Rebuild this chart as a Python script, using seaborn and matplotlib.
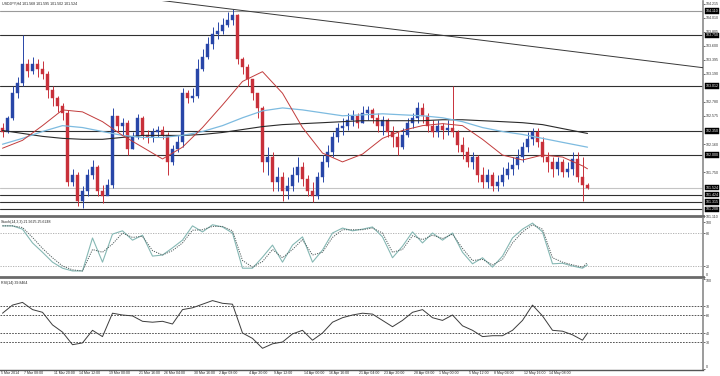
import matplotlib
matplotlib.use("Agg")
import matplotlib.pyplot as plt
import numpy as np
import pandas as pd
import seaborn as sns

# ---------------- data ----------------
header = "USDJPY,H4 101.568 101.595 101.502 101.524"
stoch_label = "Stoch(14,3,3) 21.9625 25.6248"
rsi_label = "RSI(14) 39.8464"

first_open = 102.40
close = [102.331, 102.546, 102.905, 103.048, 103.335, 103.235, 103.335, 103.263, 103.192, 102.948,
         102.833, 102.718, 102.618, 101.614, 101.714, 101.327, 101.470, 101.714, 101.829, 101.470,
         101.398, 101.570, 102.575, 102.431, 102.474, 102.087, 102.259, 102.546, 102.288, 102.259,
         102.331, 102.374, 102.288, 101.901, 102.087, 102.187, 102.905, 102.833, 102.862, 103.263,
         103.436, 103.622, 103.766, 103.809, 103.909, 103.981, 104.053, 103.407, 103.292, 103.120,
         102.905, 102.690, 101.901, 101.972, 101.614, 101.685, 101.470, 101.542, 101.714, 101.829,
         101.657, 101.470, 101.398, 101.685, 101.901, 102.044, 102.259, 102.403, 102.431, 102.517,
         102.575, 102.474, 102.618, 102.661, 102.546, 102.431, 102.517, 102.331, 102.259, 102.116,
         102.288, 102.474, 102.546, 102.690, 102.575, 102.431, 102.331, 102.431, 102.374, 102.403,
         102.331, 102.144, 102.044, 101.901, 101.972, 101.714, 101.614, 101.714, 101.542, 101.614,
         101.714, 101.800, 101.858, 101.972, 102.116, 102.231, 102.331, 102.187, 101.972, 101.901,
         101.800, 101.901, 101.757, 101.800, 101.944, 101.685, 101.570, 101.524]
high = [102.474, 102.575, 103.005, 103.149, 103.751, 103.407, 103.436, 103.407, 103.378, 103.235,
        103.005, 102.862, 102.761, 102.661, 101.800, 101.757, 101.542, 101.800, 101.929, 101.858,
        101.570, 101.657, 102.690, 102.575, 102.546, 102.517, 102.331, 102.604, 102.575, 102.374,
        102.403, 102.431, 102.431, 102.331, 102.144, 102.288, 102.977, 102.948, 102.977, 103.407,
        103.550, 103.723, 103.866, 103.952, 104.010, 104.096, 104.139, 104.067, 103.436, 103.335,
        103.120, 102.905, 102.718, 102.116, 102.044, 101.829, 101.757, 101.685, 101.829, 101.972,
        101.901, 101.714, 101.614, 101.757, 102.001, 102.144, 102.331, 102.474, 102.546, 102.618,
        102.661, 102.618, 102.718, 102.718, 102.690, 102.618, 102.575, 102.546, 102.431, 102.331,
        102.403, 102.546, 102.618, 102.776, 102.761, 102.618, 102.517, 102.517, 102.474, 102.517,
        103.005, 102.374, 102.259, 102.116, 102.044, 102.001, 101.829, 101.800, 101.757, 101.714,
        101.829, 101.901, 101.972, 102.087, 102.187, 102.331, 102.403, 102.403, 102.259, 102.044,
        101.972, 101.972, 101.944, 101.901, 102.044, 102.044, 101.972, 101.595]
low = [102.259, 102.317, 102.517, 102.833, 103.005, 103.149, 103.192, 103.149, 103.120, 102.833,
       102.718, 102.632, 102.517, 101.542, 101.542, 101.255, 101.226, 101.398, 101.657, 101.398,
       101.298, 101.427, 101.513, 102.331, 102.288, 102.001, 102.087, 102.231, 102.231, 102.173,
       102.187, 102.259, 102.231, 101.714, 101.858, 102.044, 102.116, 102.761, 102.776, 102.833,
       103.235, 103.407, 103.550, 103.694, 103.766, 103.866, 103.909, 103.335, 103.192, 103.005,
       102.804, 102.546, 101.757, 101.714, 101.470, 101.470, 101.327, 101.355, 101.470, 101.614,
       101.542, 101.398, 101.312, 101.355, 101.614, 101.829, 101.972, 102.187, 102.288, 102.374,
       102.431, 102.403, 102.474, 102.517, 102.474, 102.331, 102.288, 102.259, 102.116, 102.001,
       102.087, 102.259, 102.403, 102.474, 102.474, 102.331, 102.259, 102.259, 102.231, 102.288,
       102.259, 102.044, 101.944, 101.829, 101.800, 101.614, 101.513, 101.513, 101.470, 101.470,
       101.542, 101.657, 101.714, 101.800, 101.901, 102.044, 102.144, 102.116, 101.901, 101.757,
       101.685, 101.714, 101.685, 101.685, 101.714, 101.614, 101.327, 101.502]

ma_idx = [0, 4, 8, 12, 16, 20, 24, 28, 32, 36, 40, 44, 48, 52, 56, 60, 64, 68, 72, 76,
          80, 84, 88, 92, 96, 100, 104, 108, 112, 116, 117]
ma_red = [102.101, 102.216, 102.431, 102.661, 102.632, 102.489, 102.288, 102.116, 101.944, 102.116,
          102.403, 102.733, 103.077, 103.220, 102.905, 102.403, 102.030, 101.901, 102.015, 102.245,
          102.360, 102.431, 102.460, 102.431, 102.231, 102.001, 101.929, 102.001, 101.972, 101.843,
          101.800]
ma_blue = [102.159, 102.245, 102.345, 102.431, 102.403, 102.345, 102.288, 102.259, 102.259, 102.288,
           102.345, 102.431, 102.546, 102.647, 102.690, 102.661, 102.618, 102.575, 102.589, 102.604,
           102.589, 102.575, 102.546, 102.489, 102.403, 102.345, 102.302, 102.245, 102.187, 102.130,
           102.116]
ma_black = [102.360, 102.317, 102.274, 102.245, 102.231, 102.231, 102.259, 102.288, 102.288, 102.288,
            102.302, 102.331, 102.374, 102.417, 102.446, 102.460, 102.474, 102.489, 102.503, 102.503,
            102.503, 102.503, 102.517, 102.517, 102.503, 102.489, 102.474, 102.446, 102.388, 102.331,
            102.317]

osc_idx = list(range(0, 117, 2)) + [117]
stoch_main = [93, 93, 87, 62, 45, 27, 16, 11, 11, 71, 27, 78, 84, 67, 76, 38, 40, 53, 67, 93,
              82, 95, 91, 80, 16, 16, 36, 58, 27, 58, 73, 27, 49, 80, 89, 84, 87, 91, 73, 35,
              56, 82, 62, 80, 67, 80, 45, 24, 35, 18, 38, 71, 87, 98, 82, 24, 25, 20, 16, 22]
stoch_signal = [93, 93, 90, 72, 52, 35, 20, 13, 11, 50, 45, 60, 80, 72, 74, 48, 40, 48, 62, 85,
                86, 92, 92, 84, 30, 18, 28, 50, 35, 50, 68, 40, 45, 72, 86, 86, 86, 89, 80, 45,
                50, 75, 68, 76, 70, 78, 52, 30, 32, 22, 32, 62, 82, 95, 87, 35, 27, 22, 18, 26]
rsi = [62, 71, 74, 66, 63, 49, 41, 27, 29, 43, 36, 62, 60, 59, 53, 52, 53, 50, 66, 68,
       72, 76, 73, 72, 40, 34, 23, 28, 30, 39, 43, 32, 40, 52, 57, 60, 62, 61, 54, 47,
       54, 63, 66, 57, 54, 60, 48, 43, 36, 37, 37, 43, 54, 71, 59, 43, 42, 38, 32, 40]

level_prices = [104.110, 103.750, 103.012, 102.350, 102.000, 101.524, 101.424, 101.315, 101.208]
level_labels = ["104.110", "103.750", "103.012", "102.350", "102.000", "101.524", "101.424",
                "101.315", "101.208"]
price_ticks = [104.215, 104.010, 103.805, 103.600, 103.395, 103.190, 102.780, 102.575,
               102.160, 101.750, 101.110]
trend_idx = [31.0, 140.1]
trend_price = [104.268, 103.278]

stoch_levels = [80, 20]
stoch_ticks = [100, 80, 20, 0]
rsi_levels = [70, 60, 40, 30]
rsi_ticks = [100, 70, 60, 40, 30, 0]

time_idx = [-0.7, 4, 10, 15, 21, 27, 32, 38, 43, 49, 54, 60, 65, 71, 76, 82, 87, 93, 98, 104, 109]
time_labels = ["5 Mar 2014", "7 Mar 08:00", "11 Mar 20:00", "14 Mar 12:00", "19 Mar 00:00",
               "21 Mar 16:00", "26 Mar 04:00", "30 Mar 16:00", "2 Apr 08:00", "4 Apr 20:00",
               "9 Apr 12:00", "14 Apr 00:00", "16 Apr 16:00", "21 Apr 04:00", "23 Apr 20:00",
               "28 Apr 08:00", "1 May 00:00", "5 May 12:00", "8 May 04:00", "12 May 16:00",
               "14 May 08:00"]

# ---------------- style ----------------
sns.set_style("white")
plt.rcParams["font.family"] = ["Liberation Sans", "DejaVu Sans"]
FS = 2.6
FSX = 2.5
BULL = "#2846a8"
BEAR = "#c8303a"
SEP = "#8a8a8a"

W, H = 720, 376
fig = plt.figure(figsize=(W / 100, H / 100), dpi=100)
fig.patch.set_facecolor("white")

def frac_box(top_px, bottom_px, right_px=703):
    return [0, 1 - bottom_px / H, right_px / W, (bottom_px - top_px) / H]

ax = fig.add_axes(frac_box(1, 216))
ax_st = fig.add_axes(frac_box(218, 277), sharex=ax)
ax_rsi = fig.add_axes(frac_box(279, 370), sharex=ax)

XLIM = (-0.5, 140.1)
TICKKW = dict(labelsize=FS, length=1.2, width=0.5, pad=0.6, colors="#333333")

# ---------------- main price panel ----------------
c = np.array(close)
o = np.array([first_open] + close[:-1])
hi = np.array(high)
lo = np.array(low)
idx = np.arange(len(c))
up = c >= o
cols = np.where(up, BULL, BEAR)

for p, lab in zip(level_prices, level_labels):
    col = "#303030"
    if lab == "104.110":
        col = "#9a9a9a"
    if lab == "101.524":
        col = "#c4c4c4"
    ax.axhline(p, color=col, lw=0.8, zorder=1)

ax.vlines(idx, lo, hi, colors=cols, lw=0.7, zorder=2)
ax.bar(idx, np.maximum(np.abs(c - o), 0.008), bottom=np.minimum(o, c), width=0.55,
       color=cols, edgecolor=cols, linewidth=0.3, zorder=3)

ma_df = pd.DataFrame({"idx": ma_idx, "red": ma_red, "blue": ma_blue, "black": ma_black})
sns.lineplot(data=ma_df, x="idx", y="black", ax=ax, color="#2a2a2a", linewidth=0.8, zorder=4)
sns.lineplot(data=ma_df, x="idx", y="blue", ax=ax, color="#7dbbe0", linewidth=0.9, zorder=4)
sns.lineplot(data=ma_df, x="idx", y="red", ax=ax, color="#c23c3c", linewidth=0.7, zorder=5)

sns.lineplot(x=trend_idx, y=trend_price, ax=ax, color="#383838", linewidth=0.7, zorder=4)

ax.set_xlim(*XLIM)
ax.set_ylim(101.169, 104.253)
ax.yaxis.tick_right()
ax.set_yticks(price_ticks)
ax.set_yticklabels([f"{t:.3f}" for t in price_ticks])
ax.tick_params(axis="y", **TICKKW)
ax.tick_params(axis="x", bottom=False, labelbottom=False)
ax.set_xlabel("")
ax.set_ylabel("")
for lab, p in zip(level_labels, level_prices):
    ax.text(1.0036, p, lab, transform=ax.get_yaxis_transform(), fontsize=FS, color="white",
            va="center", ha="left", clip_on=False, zorder=10,
            bbox=dict(boxstyle="square,pad=0.2", fc="black", ec="black", lw=0.3))

# ---------------- stochastic panel ----------------
osc_df = pd.DataFrame({"idx": osc_idx, "main": stoch_main, "signal": stoch_signal, "rsi": rsi})
for lv in stoch_levels:
    ax_st.axhline(lv, color="#a8a8a8", lw=0.6, ls=(0, (1.5, 1.5)), zorder=1)
sns.lineplot(data=osc_df, x="idx", y="main", ax=ax_st, color="#86b8b4", linewidth=0.8, zorder=3)
sns.lineplot(data=osc_df, x="idx", y="signal", ax=ax_st, color="#4e5c5c", linewidth=0.7,
             linestyle=(0, (1.2, 1.2)), zorder=4)
ax_st.set_ylim(0, 107.3)
ax_st.yaxis.tick_right()
ax_st.set_yticks(stoch_ticks)
ax_st.set_yticklabels([str(t) for t in stoch_ticks])
ax_st.tick_params(axis="y", **TICKKW)
ax_st.tick_params(axis="x", bottom=False, labelbottom=False)
ax_st.get_yticklabels()[-1].set_va("bottom")
ax_st.set_xlabel("")
ax_st.set_ylabel("")
ax_st.text(0.001, 0.93, stoch_label, transform=ax_st.transAxes, fontsize=FS, color="#222222",
           va="center", ha="left")

# ---------------- RSI panel ----------------
for lv in rsi_levels:
    ax_rsi.axhline(lv, color="#3a3a3a", lw=0.6, ls=(0, (2, 1.5)), zorder=1)
sns.lineplot(data=osc_df, x="idx", y="rsi", ax=ax_rsi, color="#3c3c3c", linewidth=0.7, zorder=3)
ax_rsi.set_ylim(-1.1, 100)
ax_rsi.yaxis.tick_right()
ax_rsi.set_yticks(rsi_ticks)
ax_rsi.set_yticklabels([str(t) for t in rsi_ticks])
ax_rsi.tick_params(axis="y", **TICKKW)
ax_rsi.get_yticklabels()[0].set_va("top")
ax_rsi.get_yticklabels()[-1].set_va("bottom")
ax_rsi.set_xlabel("")
ax_rsi.set_ylabel("")
ax_rsi.text(0.001, 0.955, rsi_label, transform=ax_rsi.transAxes, fontsize=FS, color="#222222",
            va="center", ha="left")

inside = [t for t in time_idx if t >= XLIM[0]]
ax_rsi.set_xticks(inside)
ax_rsi.tick_params(axis="x", labelbottom=False, length=1.5, width=0.5, direction="out",
                   colors="#444444")
for t, lab in zip(time_idx, time_labels):
    ax_rsi.text(t + 0.3, -0.012, lab, transform=ax_rsi.get_xaxis_transform(), fontsize=FSX,
                color="#222222", ha="left", va="top", clip_on=False)

# ---------------- frames ----------------
for a in (ax, ax_st, ax_rsi):
    a.set_facecolor("white")
    a.spines["left"].set_visible(False)
    a.spines["top"].set_visible(False)
    a.spines["right"].set_color(SEP)
    a.spines["right"].set_linewidth(1.2)
    a.grid(False)
ax.spines["bottom"].set_color("#6a6a6a")
ax.spines["bottom"].set_linewidth(2.0)
ax_st.spines["bottom"].set_color("#6a6a6a")
ax_st.spines["bottom"].set_linewidth(2.0)
ax_rsi.spines["bottom"].set_color("#555555")
ax_rsi.spines["bottom"].set_linewidth(1.0)

fig.text(2 / W, 1 - 4 / H, header, fontsize=FS, color="#222222", va="center", ha="left")

fig.savefig("out.png", dpi=100, facecolor="white")
